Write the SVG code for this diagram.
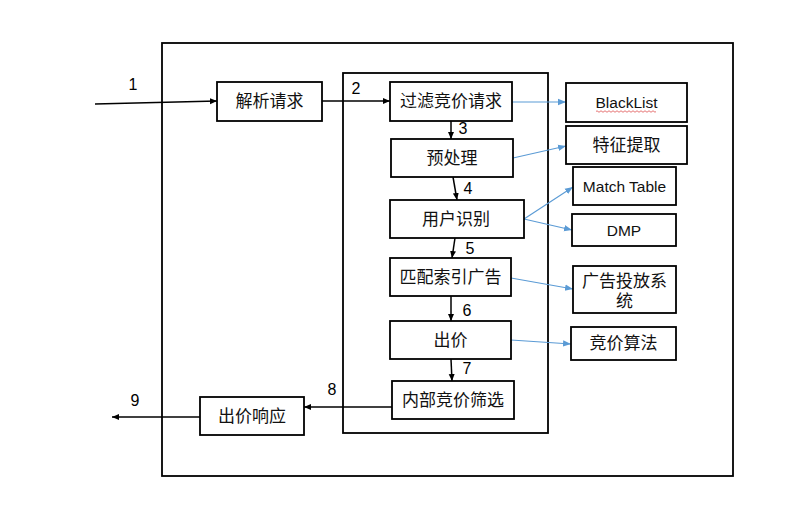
<svg xmlns="http://www.w3.org/2000/svg" width="798" height="517" viewBox="0 0 798 517">
<style>
.box{fill:#fff;stroke:#000;stroke-width:1.8}
.frame{fill:none;stroke:#000;stroke-width:1.8}
.t{font-family:"Liberation Sans","Noto Sans CJK SC",sans-serif;font-size:17px;fill:#111;text-anchor:middle;dominant-baseline:central}
.l{font-family:"Liberation Sans","Noto Sans CJK SC",sans-serif;font-size:15.5px;fill:#111;text-anchor:middle;dominant-baseline:central}
.n{font-family:"Liberation Sans",sans-serif;font-size:16px;fill:#000;text-anchor:middle;dominant-baseline:central}
.a{fill:none;stroke:#000;stroke-width:1.5}
.b{fill:none;stroke:#5b9bd5;stroke-width:1.1}
</style>
<defs>
<marker id="ah" markerUnits="userSpaceOnUse" markerWidth="8" markerHeight="8" refX="7" refY="4" orient="auto"><path d="M0,1 L7,4 L0,7 Z" fill="#000"/></marker>
<marker id="bh" markerUnits="userSpaceOnUse" markerWidth="9" markerHeight="8" refX="8" refY="4" orient="auto"><path d="M0,0.8 L8,4 L0,7.2 Z" fill="#5b9bd5"/></marker>
</defs>
<rect width="798" height="517" fill="#fff"/>
<rect class="frame" x="162" y="43" width="571" height="433"/>
<rect class="frame" x="343" y="73" width="205" height="360"/>

<g id="connectors">
<path class="a" d="M95,104 L217,101" marker-end="url(#ah)"/>
<path class="a" d="M322,101 L390,101" marker-end="url(#ah)"/>
<path class="a" d="M451,121 L451,139" marker-end="url(#ah)"/>
<path class="a" d="M453,177 L457,200" marker-end="url(#ah)"/>
<path class="a" d="M455,238 L452,258" marker-end="url(#ah)"/>
<path class="a" d="M451,296 L451,321" marker-end="url(#ah)"/>
<path class="a" d="M451,359 L452,381" marker-end="url(#ah)"/>
<path class="a" d="M392,407 L304,407" marker-end="url(#ah)"/>
<path class="a" d="M200,417 L112,417" marker-end="url(#ah)"/>
<path class="b" d="M512,102 L566,102" marker-end="url(#bh)"/>
<path class="b" d="M513,158 L566,146" marker-end="url(#bh)"/>
<path class="b" d="M524,219 L573,187" marker-end="url(#bh)"/>
<path class="b" d="M524,219 L572,230" marker-end="url(#bh)"/>
<path class="b" d="M511,278 L573,289" marker-end="url(#bh)"/>
<path class="b" d="M511,340 L571,344" marker-end="url(#bh)"/>
<text class="n" x="133" y="84">1</text>
<text class="n" x="356" y="88">2</text>
<text class="n" x="463" y="128">3</text>
<text class="n" x="468" y="188">4</text>
<text class="n" x="470" y="248">5</text>
<text class="n" x="467" y="310">6</text>
<text class="n" x="467" y="368">7</text>
<text class="n" x="332" y="389">8</text>
<text class="n" x="135" y="400">9</text>
</g>

<g id="parse"><rect class="box" x="217" y="82" width="105" height="39"/><text class="t" x="269.5" y="101">解析请求</text></g>
<g id="filter"><rect class="box" x="390" y="82" width="122" height="39"/><text class="t" x="451" y="101">过滤竞价请求</text></g>
<g id="preprocess"><rect class="box" x="391" y="139" width="122" height="38"/><text class="t" x="452" y="158">预处理</text></g>
<g id="userid"><rect class="box" x="390" y="200" width="134" height="38"/><text class="t" x="456" y="219">用户识别</text></g>
<g id="match"><rect class="box" x="390" y="258" width="121" height="38"/><text class="t" x="450.5" y="277">匹配索引广告</text></g>
<g id="bid"><rect class="box" x="390" y="321" width="121" height="38"/><text class="t" x="450.5" y="340">出价</text></g>
<g id="inner"><rect class="box" x="392" y="381" width="122" height="38"/><text class="t" x="453" y="400">内部竞价筛选</text></g>
<g id="response"><rect class="box" x="200" y="397" width="104" height="38"/><text class="t" x="252" y="416">出价响应</text></g>

<g id="blacklist"><rect class="box" x="566" y="83" width="121" height="39"/><text class="l" x="626.5" y="102">BlackList</text>
<path d="M596,111.5 q1,-1.5 2,0 t2,0 t2,0 t2,0 t2,0 t2,0 t2,0 t2,0 t2,0 t2,0 t2,0 t2,0 t2,0 t2,0 t2,0 t2,0 t2,0 t2,0 t2,0 t2,0 t2,0 t2,0 t2,0 t2,0 t2,0 t2,0 t2,0 t2,0 t2,0 t2,0" fill="none" stroke="#e05050" stroke-width="0.8"/></g>
<g id="feature"><rect class="box" x="566" y="126" width="121" height="38"/><text class="t" x="626.5" y="145">特征提取</text></g>
<g id="matchtable"><rect class="box" x="573" y="167" width="103" height="38"/><text class="l" x="624.5" y="186">Match Table</text></g>
<g id="dmp"><rect class="box" x="572" y="214" width="104" height="32"/><text class="l" x="624" y="230">DMP</text></g>
<g id="adserving"><rect class="box" x="573" y="266" width="103" height="47"/><text class="t" x="624.5" y="281">广告投放系</text><text class="t" x="624.5" y="301">统</text></g>
<g id="algo"><rect class="box" x="571" y="327" width="105" height="33"/><text class="t" x="623.5" y="343.5">竞价算法</text></g>
</svg>
